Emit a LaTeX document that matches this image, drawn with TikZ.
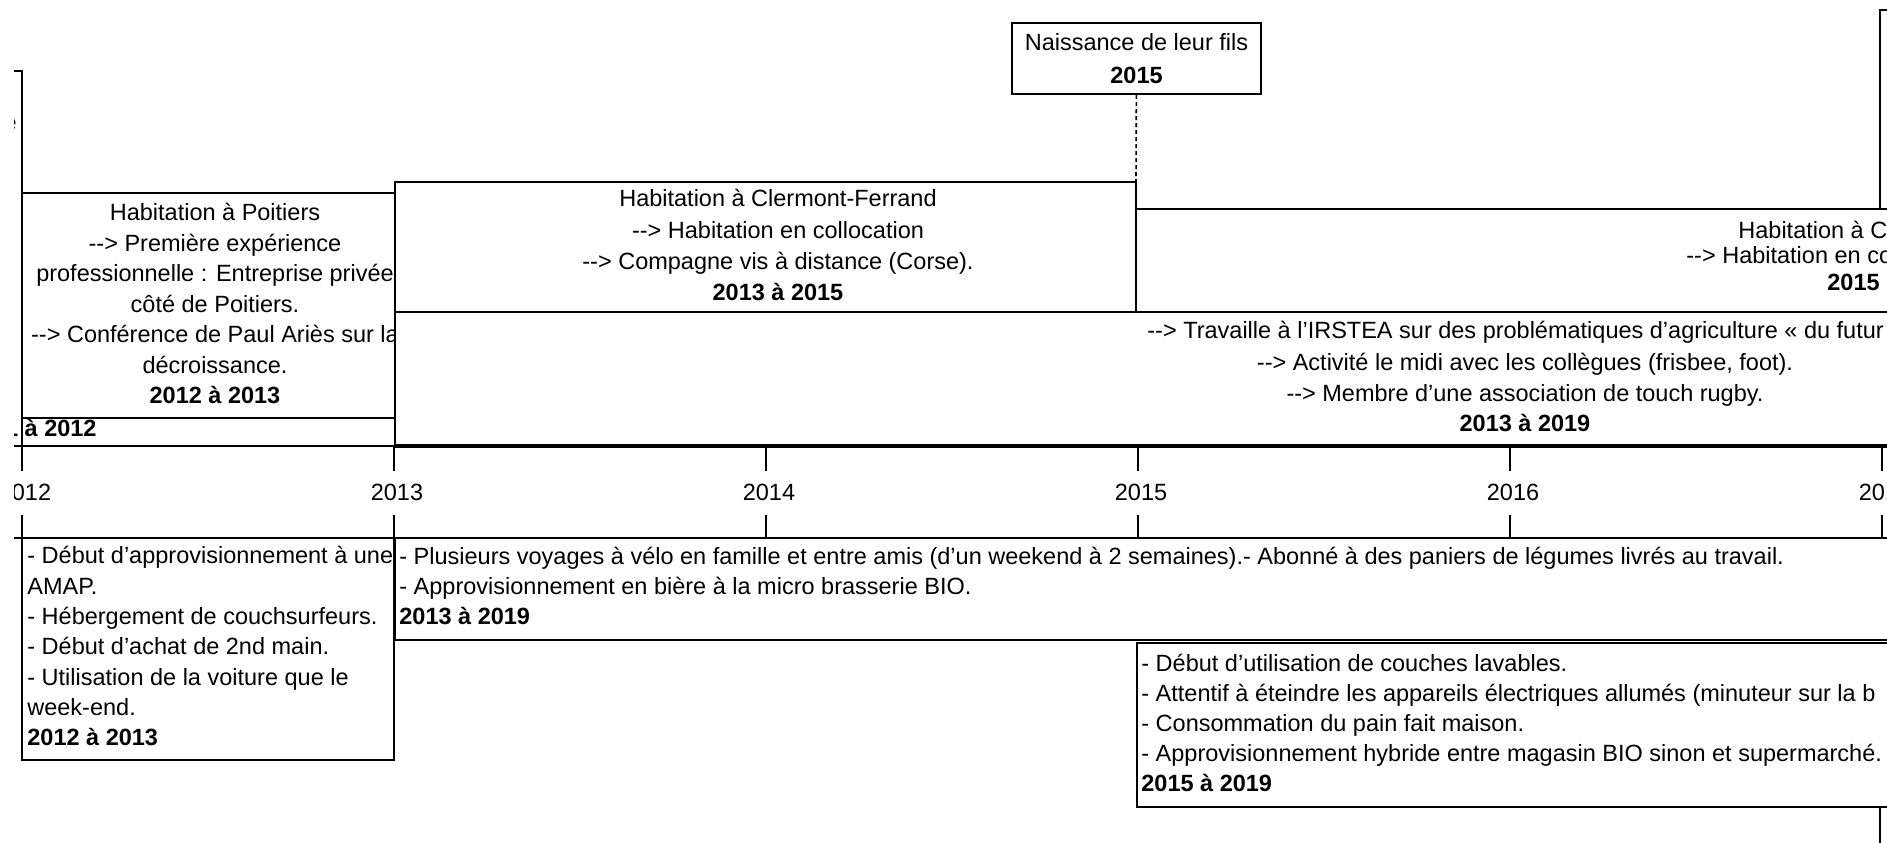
\documentclass[tikz,border=0pt]{standalone}
\usepackage{fontspec}
\setmainfont{Liberation Sans}
\usetikzlibrary{positioning}
\newcommand\tlfont{\fontsize{11.75pt}{15.25pt}\selectfont}
\newcommand\fst{\rule{0pt}{9.5pt}}

\begin{document}
\begin{tikzpicture}[
    x=0.5pt, y=-0.5pt,
    font=\tlfont,
    evt/.style={draw, fill=white, line width=1pt},
    txt/.style={inner sep=0pt, anchor=north, align=center},
    ltxt/.style={inner sep=0pt, anchor=north west, align=left},
    frag/.style={inner sep=0pt, anchor=base west},
    lsp/.style={font=\fontsize{11.75pt}{#1}\selectfont},
    tick/.style={line width=1pt}]
  \useasboundingbox (0,0) rectangle (1887,842);
  \clip (14,0) rectangle (1887,842);

  % upper row: places of living and work
  \draw[evt] (0,71) rectangle (22,446);
  \node[inner sep=0pt, anchor=base east] (cut) at (17,130) {e};
  \node[inner sep=0pt, anchor=base east] (prev) at (97,436) {\textbf{2011 à 2012}};
  \draw[evt] (22,193) rectangle (395,418);
  \node[txt, lsp=15.25pt] (poitiers) at (215,201.5) {\fst Habitation à Poitiers\\-{}-> Première expérience\\professionnelle : Entreprise privée\\côté de Poitiers.\\-{}-> Conférence de Paul Ariès sur la\\décroissance.\\\textbf{2012 à 2013}};
  \draw[evt] (395,182) rectangle (1136,313);
  \node[txt, lsp=15.65pt] (clermont) at (778,187.5) {\fst Habitation à Clermont-Ferrand\\-{}-> Habitation en collocation\\-{}-> Compagne vis à distance (Corse).\\\textbf{2013 à 2015}};
  \coordinate (clTop) at (1136,182);
  \draw[evt] (1880,10) rectangle (1990,209);
  \draw[evt] (1136,209) rectangle (1990,313);
  \node[frag] (cf1) at (1738,238.5) {Habitation à C};
  \node[frag] (cf2) at (1686,263.5) {-{}-> Habitation en co};
  \node[frag] (cf3) at (1827,290.5) {\textbf{2015}};
  \draw[evt] (395,312) rectangle (1990,446);
  \node[frag] (irstea1) at (1147,338.5) {-{}-> Travaille à l’IRSTEA sur des problématiques d’agriculture « du futur};
  \node[txt, lsp=15.25pt] (irstea) at (1525,351.5) {\fst -{}-> Activité le midi avec les collègues (frisbee, foot).\\-{}-> Membre d’une association de touch rugby.\\\textbf{2013 à 2019}};

  % birth
  \node[evt, inner sep=0pt, minimum width=124.5pt, minimum height=35.5pt, align=center, lsp=16.5pt] (naissance) at (1136.5,58.5) {Naissance de leur fils\\\textbf{2015}};
  \draw[line width=0.8pt, dash pattern=on 2pt off 1.5pt] (naissance) -- (clTop);

  % time axis
  \draw[line width=1pt] (0,446) -- (395,446);
  \draw[line width=1.8pt] (395,446) -- (1887,446);
  \draw[line width=1pt] (0,538) -- (22,538);
  \foreach \yr [count=\i from 0] in {2012,...,2017} {
    \draw[tick] (22+372*\i,446) -- (22+372*\i,471);
    \draw[tick] (22+372*\i,515) -- (22+372*\i,538);
    \node[inner sep=0pt, anchor=base] (y\yr) at (25+372*\i,500.5) {\yr};
  }

  % lower row: daily habits
  \draw[evt] (22,538) rectangle (394,760);
  \node[ltxt, lsp=15.15pt] (amap) at (27,544.5) {\fst - Début d’approvisionnement à une\\AMAP.\\- Hébergement de couchsurfeurs.\\- Début d’achat de 2nd main.\\- Utilisation de la voiture que le\\week-end.\\\textbf{2012 à 2013}};
  \draw[evt] (395,538) rectangle (1990,640);
  \node[ltxt, lsp=15pt] (velo) at (399,545.5) {\fst - Plusieurs voyages à vélo en famille et entre amis (d’un weekend à 2 semaines).- Abonné à des paniers de légumes livrés au travail.\\- Approvisionnement en bière à la micro brasserie BIO.\\\textbf{2013 à 2019}};
  \draw[evt] (1137,643) rectangle (1990,807);
  \node[ltxt, lsp=15pt] (couches) at (1141,652.5) {\fst - Début d’utilisation de couches lavables.\\- Attentif à éteindre les appareils électriques allumés (minuteur sur la b\\- Consommation du pain fait maison.\\- Approvisionnement hybride entre magasin BIO sinon et supermarché.\\\textbf{2015 à 2019}};
  \draw[evt] (1880,807) rectangle (1990,900);
\end{tikzpicture}
\end{document}
